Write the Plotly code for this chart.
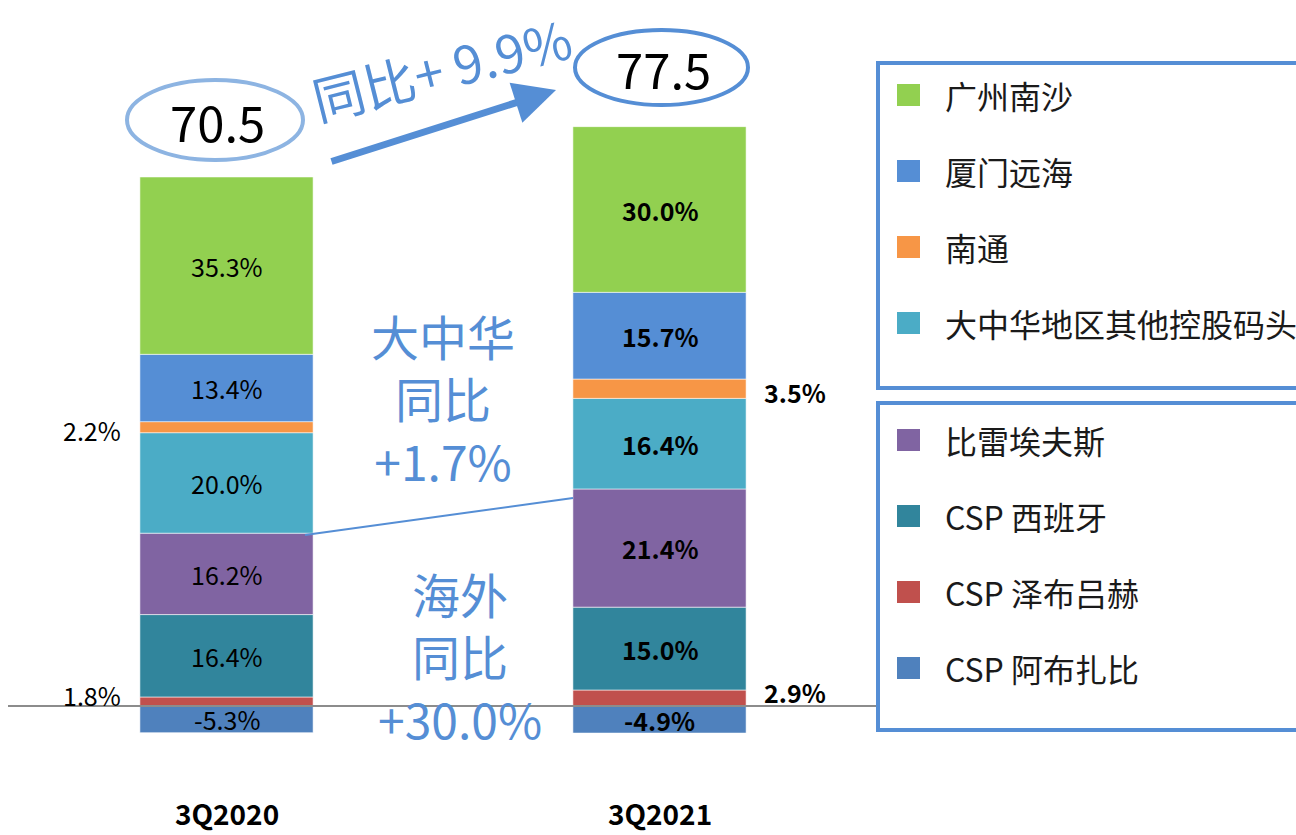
import plotly.graph_objects as go

# ---------------- data ----------------
categories = ["3Q2020", "3Q2021"]
totals = [70.5, 77.5]

series_names = ["CSP 阿布扎比", "CSP 泽布吕赫", "CSP 西班牙", "比雷埃夫斯",
                "大中华地区其他控股码头", "南通", "厦门远海", "广州南沙"]
abu_dhabi = [-5.3, -4.9]
zeebrugge = [1.8, 2.9]
spain = [16.4, 15.0]
piraeus = [16.2, 21.4]
gc_other = [20.0, 16.4]
nantong = [2.2, 3.5]
xiamen = [13.4, 15.7]
nansha = [35.3, 30.0]
series_shares = [abu_dhabi, zeebrugge, spain, piraeus, gc_other, nantong, xiamen, nansha]

series_colors = ["#4F81BD", "#C0504D", "#31859C", "#8064A2",
                 "#4BACC6", "#F79646", "#558ED5", "#92D050"]

yoy_total = "同比+ 9.9%"
yoy_gc = ["大中华", "同比", "+1.7%"]
yoy_overseas = ["海外", "同比", "+30.0%"]

legend_box1 = ["广州南沙", "厦门远海", "南通", "大中华地区其他控股码头"]
legend_box2 = ["比雷埃夫斯", "CSP 西班牙", "CSP 泽布吕赫", "CSP 阿布扎比"]

# ---------------- layout helpers ----------------
W, H = 1296, 835
FONT = "Noto Sans CJK SC, Noto Sans, sans-serif"
BLUE = "#558ED5"


def px(x):
    return x / W


def py(y):
    return 1 - y / H


fig = go.Figure()

# bars: absolute height = share * total
for name, shares, col in zip(series_names, series_shares, series_colors):
    vals = [s * t / 100 for s, t in zip(shares, totals)]
    fig.add_trace(go.Bar(
        x=categories, y=vals, name=name,
        marker=dict(color=col, line=dict(color="rgba(255,255,255,0.55)", width=1)),
        showlegend=False, hoverinfo="skip",
    ))

annotations = []
shapes = []


def ann(**kw):
    kw.setdefault("showarrow", False)
    kw.setdefault("xanchor", "center")
    kw.setdefault("yanchor", "middle")
    annotations.append(kw)


# segment labels computed from data
outside_shift = {"CSP 泽布吕赫": 6, "南通": -3}
for ci, cat in enumerate(categories):
    t = totals[ci]
    pos_base = 0.0
    for name, shares in zip(series_names, series_shares):
        s = shares[ci]
        h = s * t / 100
        if s < 0:
            mid = h / 2
        else:
            mid = pos_base + h / 2
            pos_base += h
        txt = f"{s:.1f}%"
        if ci == 1:
            txt = f"<b>{txt}</b>"
        if name in outside_shift:
            xoff = -0.31 if ci == 0 else 0.313
            ann(x=ci + xoff, y=mid, xref="x", yref="y", text=txt,
                font=dict(family=FONT, size=25, color="#000000"), yshift=outside_shift[name])
        else:
            ann(x=ci, y=mid, xref="x", yref="y", text=txt,
                font=dict(family=FONT, size=25, color="#000000"))

# category labels
for ci, cat in enumerate(categories):
    ann(x=ci, y=py(813), xref="x", yref="paper", text=f"<b>{cat}</b>",
        font=dict(family=FONT, size=28, color="#000000"))

# zero line
shapes.append(dict(type="line", xref="paper", yref="y", x0=px(8), x1=px(877), y0=0, y1=0,
                   line=dict(color="#8C8C8C", width=2)))

# total ellipses
ellipses = [((127, 80, 303, 160), "#8DB4E2"), ((575, 30, 748, 105), BLUE)]
for ci, ((x0, y0, x1, y1), col) in enumerate(ellipses):
    shapes.append(dict(type="circle", xref="paper", yref="paper",
                       x0=px(x0), x1=px(x1), y0=py(y1), y1=py(y0),
                       line=dict(color=col, width=4), fillcolor="rgba(0,0,0,0)"))
    ann(x=px((x0 + x1) / 2 + 2), y=py((y0 + y1) / 2), xref="paper", yref="paper",
        text=f"{totals[ci]:.1f}", font=dict(family=FONT, size=49, color="#000000"))

# growth arrow
annotations.append(dict(x=px(556), y=py(90), xref="paper", yref="paper", text="",
                        showarrow=True, ax=330 - 556, ay=162 - 90, axref="pixel", ayref="pixel",
                        arrowhead=2, arrowsize=1.2, arrowwidth=7, arrowcolor=BLUE, standoff=0))
ann(x=px(441), y=py(67), xref="paper", yref="paper", text=yoy_total, textangle=-14,
    font=dict(family=FONT, size=52, color=BLUE))

# region text blocks
for lines, xc, yc in [(yoy_gc, 443, 398), (yoy_overseas, 460, 655)]:
    ann(x=px(xc), y=py(yc), xref="paper", yref="paper", text="<br>".join(lines),
        align="center", font=dict(family=FONT, size=48, color=BLUE))

# connector line between Greater China and overseas boundaries
shapes.append(dict(type="line", xref="paper", yref="paper", x0=px(305), y0=py(535),
                   x1=px(573), y1=py(498), line=dict(color=BLUE, width=2)))

# legend boxes
for (y0, y1), items, start in [((63, 388), legend_box1, 95), ((403, 730), legend_box2, 440)]:
    shapes.append(dict(type="rect", xref="paper", yref="paper", x0=px(878), x1=px(1310),
                       y0=py(y1), y1=py(y0), line=dict(color=BLUE, width=4)))
    for k, name in enumerate(items):
        yc = start + 76 * k
        col = series_colors[series_names.index(name)]
        shapes.append(dict(type="rect", xref="paper", yref="paper", x0=px(897), x1=px(920),
                           y0=py(yc + 11), y1=py(yc - 11), line=dict(width=0), fillcolor=col))
        ann(x=px(943), y=py(yc), xref="paper", yref="paper", text=name, xanchor="left",
            font=dict(family=FONT, size=32, color="#1A1A1A"))

fig.update_layout(
    width=W, height=H,
    margin=dict(l=0, r=0, t=0, b=0),
    paper_bgcolor="white", plot_bgcolor="white",
    barmode="relative", bargap=0.6,
    xaxis=dict(type="category", range=[-226.5 / 433, (W - 226.5) / 433],
               showticklabels=False, showgrid=False, zeroline=False, showline=False, fixedrange=True),
    yaxis=dict(range=[-18.10, 99.07], showticklabels=False, showgrid=False,
               zeroline=False, showline=False, fixedrange=True),
    shapes=shapes, annotations=annotations,
)

fig.write_html("out.html", config={"displayModeBar": False},
               post_script="document.body.style.margin='0';")
